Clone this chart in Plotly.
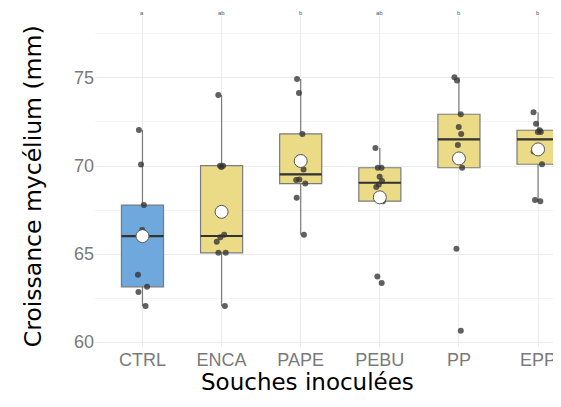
import numpy as np
import plotly.graph_objects as go

categories = ["CTRL", "ENCA", "PAPE", "PEBU", "PP", "EPP"]
letters = ["a", "ab", "b", "ab", "b", "b"]

ctrl = [72.05, 70.09, 67.78, 66.36, 66.14, 65.9, 63.82, 63.14, 62.84, 62.05]
enca = [74.03, 70.02, 70.02, 69.95, 66.1, 65.95, 65.7, 65.07, 65.07, 62.05]
pape = [74.94, 74.15, 71.82, 70.4, 69.8, 69.24, 69.2, 69.0, 68.2, 66.1]
pebu = [71.02, 69.9, 69.9, 69.39, 69.15, 68.95, 68.81, 68.0, 63.73, 63.35]
pp = [75.04, 74.85, 72.94, 72.22, 71.82, 71.2, 70.38, 69.9, 65.3, 60.64]
epp = [73.05, 72.4, 72.03, 71.93, 71.93, 71.1, 70.82, 70.1, 68.07, 68.0]

series = [ctrl, enca, pape, pebu, pp, epp]
fills = ["#6fa8dc"] + ["#ecdb86"] * 5

fig = go.Figure()

# boxes
for cat, vals, fc in zip(categories, series, fills):
    fig.add_trace(go.Box(
        x=[cat] * len(vals), y=vals, name=cat,
        boxpoints="outliers", marker=dict(opacity=0, size=1),
        fillcolor=fc, line=dict(color="#7a7a7a", width=1.2),
        whiskerwidth=0, quartilemethod="linear", hoverinfo="skip",
    ))

# dark median lines
for cat, vals in zip(categories, series):
    m = float(np.median(vals))
    fig.add_trace(go.Box(
        x=[cat], q1=[m], median=[m], q3=[m], lowerfence=[m], upperfence=[m],
        fillcolor="rgba(0,0,0,0)", line=dict(color="#333333", width=2.2),
        whiskerwidth=0, boxpoints=False, hoverinfo="skip",
    ))

# jittered points
for cat, vals in zip(categories, series):
    fig.add_trace(go.Box(
        x=[cat] * len(vals), y=vals,
        boxpoints="all", jitter=0.3, pointpos=0,
        fillcolor="rgba(0,0,0,0)", line=dict(color="rgba(0,0,0,0)", width=0),
        marker=dict(color="#333333", opacity=0.78, size=6),
        whiskerwidth=0, quartilemethod="linear", hoverinfo="skip",
    ))

# means
means = [float(np.mean(v)) for v in series]
fig.add_trace(go.Scatter(
    x=categories, y=means, mode="markers",
    marker=dict(color="white", size=13, line=dict(color="#555555", width=1)),
    hoverinfo="skip",
))

annotations = []
for cat, lt in zip(categories, letters):
    annotations.append(dict(
        x=cat, xref="x", y=1.0, yref="paper", yshift=3, yanchor="middle",
        text=lt, showarrow=False, font=dict(size=6, color="#555555",
                                           family="Liberation Sans"),
    ))
annotations.append(dict(
    x=0.455, xref="paper", y=-0.1057, yref="paper",
    xanchor="center", yanchor="middle",
    text="Souches inoculées", showarrow=False,
    font=dict(size=23, color="black", family="DejaVu Sans"),
))
annotations.append(dict(
    x=-0.133, xref="paper", y=0.486, yref="paper", textangle=-90,
    xanchor="center", yanchor="middle",
    text="Croissance mycélium (mm)", showarrow=False,
    font=dict(size=23.5, color="black", family="DejaVu Sans"),
))

fig.update_layout(
    width=553, height=399,
    margin=dict(l=87, r=0, t=8, b=60),
    paper_bgcolor="white", plot_bgcolor="white",
    showlegend=False, boxmode="overlay", boxgap=0.24,
    annotations=annotations,
    font=dict(family="Liberation Sans"),
)
fig.update_xaxes(
    type="category", categoryorder="array", categoryarray=categories,
    range=[-0.6, 5.29], showgrid=True, gridcolor="#ebebeb", gridwidth=1,
    zeroline=False, showline=False, ticks="", ticklabeloverflow="allow",
    tickfont=dict(size=18, color="#7a7a7a"),
)
fig.update_yaxes(
    range=[59.72, 78.52], tickvals=[60, 65, 70, 75],
    showgrid=True, gridcolor="#ebebeb", gridwidth=1,
    minor=dict(tickvals=[62.5, 67.5, 72.5, 77.5], showgrid=True,
               gridcolor="#f3f3f3", gridwidth=1),
    zeroline=False, showline=False, ticks="",
    tickfont=dict(size=18, color="#7a7a7a"),
)

fig.write_html("out.html")
